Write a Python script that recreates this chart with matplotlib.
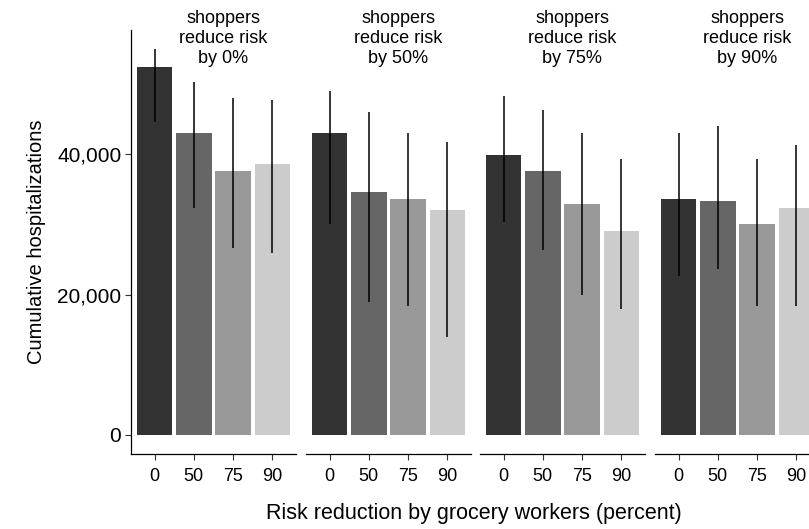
import matplotlib
matplotlib.use("Agg")
import matplotlib.pyplot as plt
from matplotlib.ticker import StrMethodFormatter

plt.rcParams['font.family'] = ['Liberation Sans', 'DejaVu Sans']

worker_levels = ["0", "50", "75", "90"]
shopper_titles = ["shoppers\nreduce risk\nby 0%", "shoppers\nreduce risk\nby 50%",
                  "shoppers\nreduce risk\nby 75%", "shoppers\nreduce risk\nby 90%"]

# mean, lower and upper bound per shopper facet (bars in worker order)
mean_0 = [52400, 43000, 37600, 38600]
low_0 = [44600, 32400, 26700, 25900]
high_0 = [55000, 50300, 48100, 47700]

mean_50 = [43000, 34700, 33600, 32100]
low_50 = [30000, 19000, 18300, 14000]
high_50 = [49100, 46100, 43000, 41700]

mean_75 = [39900, 37700, 32900, 29100]
low_75 = [30300, 26400, 19900, 18000]
high_75 = [48300, 46400, 43100, 39400]

mean_90 = [33700, 33300, 30000, 32400]
low_90 = [22600, 23600, 18300, 18300]
high_90 = [43000, 44100, 39300, 41400]

means = [mean_0, mean_50, mean_75, mean_90]
lows = [low_0, low_50, low_75, low_90]
highs = [high_0, high_50, high_75, high_90]

bar_colors = ["#333333", "#666666", "#999999", "#CCCCCC"]

W, H = 809, 529
fig = plt.figure(figsize=(W / 100, H / 100), dpi=100)

lefts = [131, 306, 480, 655]
ax_w = 165
ax_bottom, ax_top = 454, 30

x = list(range(1, len(worker_levels) + 1))
axes = []
for i, left in enumerate(lefts):
    ax = fig.add_axes([left / W, (H - ax_bottom) / H, ax_w / W, (ax_bottom - ax_top) / H])
    axes.append(ax)
    ax.bar(x, means[i], width=0.9, color=bar_colors, edgecolor="none", zorder=1)
    ax.vlines(x, lows[i], highs[i], color="black", linewidth=1.1, zorder=2)
    ax.set_xlim(0.4, 4.6)
    ax.set_ylim(-2750, 57750)
    ax.set_xticks(x)
    ax.set_xticklabels(worker_levels, fontsize=13)
    ax.tick_params(axis="x", length=4, width=0.8, pad=6, color="#333333")
    for s in ["top", "right"]:
        ax.spines[s].set_visible(False)
    ax.spines["bottom"].set_linewidth(0.9)
    if i == 0:
        ax.set_yticks([0, 20000, 40000])
        ax.yaxis.set_major_formatter(StrMethodFormatter("{x:,.0f}"))
        ax.tick_params(axis="y", labelsize=15, length=4, width=0.8, pad=3, color="#333333")
        ax.spines["left"].set_linewidth(0.9)
        ax.set_ylabel("Cumulative hospitalizations", fontsize=14.5, labelpad=8)
    else:
        ax.spines["left"].set_visible(False)
        ax.set_yticks([])
    ax.text(0.56, 0.98, shopper_titles[i], transform=ax.transAxes, ha="center",
            va="center", fontsize=13, clip_on=False)

fig.text(474 / W, (H - 513) / H, "Risk reduction by grocery workers (percent)",
         ha="center", va="center", fontsize=15.5)

fig.savefig("out.png", dpi=100)
